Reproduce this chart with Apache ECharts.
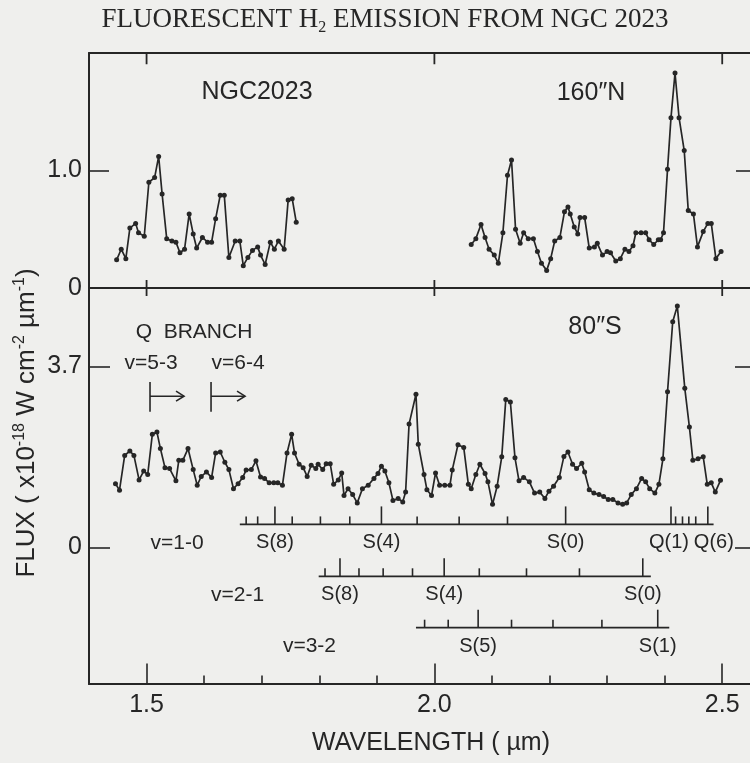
<!DOCTYPE html>
<html>
<head>
<meta charset="utf-8">
<title>Fluorescent H2 emission from NGC 2023</title>
<script src="https://cdn.jsdelivr.net/npm/echarts@6/dist/echarts.min.js"></script>
<style>
  html, body { margin: 0; padding: 0; background: #efefed; }
  #chart { width: 750px; height: 763px; }
</style>
</head>
<body>
<div id="chart"></div>
<script>
// 160"N position, two scanned pieces (wavelength in micron, flux in 1e-18 W cm-2 um-1)
const northWaveA = [1.448, 1.456, 1.464, 1.471, 1.481, 1.486, 1.496, 1.504, 1.514, 1.521, 1.527, 1.535, 1.544, 1.551,
  1.558, 1.566, 1.574, 1.581, 1.587, 1.597, 1.606, 1.613, 1.620, 1.628, 1.635, 1.643, 1.654, 1.662, 1.668, 1.676,
  1.684, 1.693, 1.698, 1.706, 1.715, 1.722, 1.729, 1.739, 1.746, 1.753, 1.760];
const northFluxA = [0.24, 0.33, 0.25, 0.51, 0.55, 0.47, 0.44, 0.90, 0.94, 1.12, 0.80, 0.42, 0.40, 0.39,
  0.30, 0.33, 0.63, 0.46, 0.34, 0.43, 0.39, 0.39, 0.59, 0.79, 0.79, 0.26, 0.40, 0.40, 0.19, 0.26,
  0.32, 0.35, 0.28, 0.20, 0.39, 0.33, 0.40, 0.33, 0.75, 0.76, 0.56];
const northWaveB = [2.064, 2.072, 2.081, 2.088, 2.095, 2.104, 2.111, 2.119, 2.127, 2.134, 2.141, 2.149, 2.155, 2.163,
  2.172, 2.179, 2.186, 2.195, 2.202, 2.209, 2.218, 2.226, 2.232, 2.236, 2.243, 2.249, 2.253, 2.261, 2.269, 2.278,
  2.283, 2.292, 2.300, 2.306, 2.315, 2.323, 2.331, 2.338, 2.345, 2.350, 2.359, 2.367, 2.373, 2.381, 2.389, 2.393,
  2.398, 2.405, 2.411, 2.418, 2.425, 2.434, 2.441, 2.450, 2.457, 2.467, 2.475, 2.481, 2.489, 2.498];
const northFluxB = [0.37, 0.42, 0.54, 0.43, 0.33, 0.28, 0.21, 0.47, 0.96, 1.09, 0.50, 0.38, 0.47, 0.42,
  0.42, 0.31, 0.21, 0.15, 0.25, 0.40, 0.43, 0.65, 0.69, 0.63, 0.52, 0.46, 0.60, 0.60, 0.34, 0.35,
  0.38, 0.28, 0.31, 0.30, 0.23, 0.25, 0.33, 0.31, 0.36, 0.47, 0.47, 0.47, 0.41, 0.37, 0.41, 0.41,
  0.47, 1.01, 1.45, 1.83, 1.45, 1.17, 0.66, 0.63, 0.35, 0.48, 0.55, 0.55, 0.25, 0.31];

// 80"S position
const southWave = [1.446, 1.453, 1.462, 1.471, 1.478, 1.487, 1.495, 1.502, 1.510, 1.518, 1.524, 1.532, 1.540, 1.551,
  1.556, 1.563, 1.572, 1.581, 1.588, 1.595, 1.604, 1.613, 1.620, 1.628, 1.636, 1.643, 1.651, 1.659, 1.667, 1.673,
  1.682, 1.690, 1.698, 1.705, 1.713, 1.721, 1.728, 1.736, 1.744, 1.752, 1.757, 1.765, 1.772, 1.779, 1.786, 1.794,
  1.798, 1.806, 1.812, 1.819, 1.825, 1.833, 1.839, 1.843, 1.850, 1.858, 1.866, 1.875, 1.885, 1.895, 1.902, 1.908,
  1.914, 1.921, 1.928, 1.937, 1.945, 1.950, 1.956, 1.968, 1.972, 1.982, 1.987, 1.995, 2.002, 2.009, 2.018, 2.027,
  2.031, 2.041, 2.051, 2.059, 2.064, 2.072, 2.079, 2.088, 2.093, 2.101, 2.109, 2.117, 2.124, 2.132, 2.140, 2.147,
  2.155, 2.165, 2.174, 2.183, 2.192, 2.199, 2.207, 2.217, 2.225, 2.232, 2.240, 2.247, 2.256, 2.261, 2.269, 2.277,
  2.286, 2.294, 2.302, 2.310, 2.319, 2.327, 2.334, 2.342, 2.351, 2.360, 2.367, 2.374, 2.383, 2.390, 2.397, 2.405,
  2.414, 2.422, 2.435, 2.443, 2.449, 2.458, 2.467, 2.474, 2.481, 2.488, 2.497];
const southFlux = [1.30, 1.17, 1.88, 1.97, 1.88, 1.38, 1.56, 1.49, 2.31, 2.36, 2.02, 1.63, 1.61, 1.36,
  1.78, 1.78, 2.02, 1.59, 1.27, 1.45, 1.54, 1.43, 1.93, 1.95, 1.74, 1.59, 1.20, 1.30, 1.43, 1.58,
  1.59, 1.77, 1.44, 1.41, 1.32, 1.32, 1.32, 1.27, 1.93, 2.31, 1.93, 1.70, 1.63, 1.45, 1.68, 1.61,
  1.70, 1.59, 1.71, 1.71, 1.29, 1.38, 1.52, 1.06, 1.20, 1.08, 0.91, 1.20, 1.27, 1.41, 1.51, 1.66,
  1.56, 1.32, 0.96, 1.00, 0.93, 1.13, 2.52, 3.13, 2.11, 1.49, 1.18, 1.06, 1.52, 1.27, 1.27, 1.27,
  1.58, 2.10, 2.04, 1.29, 1.20, 1.49, 1.70, 1.51, 1.34, 0.88, 1.25, 1.85, 3.02, 2.97, 1.83, 1.36,
  1.43, 1.34, 1.11, 1.13, 1.00, 1.15, 1.25, 1.43, 1.86, 1.95, 1.70, 1.61, 1.72, 1.54, 1.18, 1.11,
  1.08, 1.04, 0.98, 0.98, 0.91, 0.88, 0.91, 1.08, 1.20, 1.41, 1.34, 1.20, 1.11, 1.29, 1.81, 3.18,
  4.61, 4.93, 3.25, 2.46, 1.78, 1.81, 1.85, 1.29, 1.32, 1.13, 1.37];

// H2 line identifications (wavelength of each tick, name only on the long ones)
const v10Lines = [1.673, 1.693, 1.723, 1.753, 1.802, 1.853, 1.908, 1.970, 2.043, 2.127, 2.228,
  2.411, 2.419, 2.431, 2.442, 2.454, 2.475];
const v10Names = ['', '', 'S(8)', '', '', '', 'S(4)', '', '', '', 'S(0)', 'Q(1)', '', '', '', '', 'Q(6)'];
const v21Lines = [1.810, 1.836, 1.869, 1.911, 1.962, 2.017, 2.078, 2.160, 2.252, 2.362];
const v21Names = ['', 'S(8)', '', '', '', 'S(4)', '', '', '', 'S(0)'];
const v32Lines = [1.983, 2.024, 2.076, 2.134, 2.206, 2.291, 2.388];
const v32Names = ['', '', 'S(5)', '', '', '', 'S(1)'];
// Q branch onsets
const qBranchStart = [1.506, 1.612];

// axis ticks
const majorTicks = [1.5, 2.0, 2.5];
const minorTicks = [1.6, 1.7, 1.8, 1.9, 2.1, 2.2, 2.3, 2.4];

const ink = '#262626';
const sans = "'Liberation Sans', Arial, Helvetica, sans-serif";
const waveMin = 1.4, waveMax = 2.55;

function zip(w, f) {
  return w.map((x, i) => [x, f[i]]);
}

/*frame x axis*/
function xAxisDef(gridIndex, position, ticks, tickLen, labels) {
  return {
    type: 'value', gridIndex: gridIndex, position: position, min: waveMin, max: waveMax,
    axisLine: { show: true, onZero: false, lineStyle: { color: ink, width: 2 } },
    axisTick: ticks ? { show: true, inside: true, length: tickLen, customValues: ticks.slice(),
      lineStyle: { color: ink, width: 1.6 } } : { show: false },
    axisLabel: labels ? {
      show: true, customValues: ticks.slice(), margin: 9, color: ink, fontSize: 25, fontFamily: sans,
      formatter: v => v.toFixed(1)
    } : { show: false },
    splitLine: { show: false }
  };
}

/*frame y axis*/
function yAxisDef(gridIndex, position, min, max, ticks, tickLen, labels) {
  return {
    type: 'value', gridIndex: gridIndex, position: position, min: min, max: max,
    // the right frame edge is cut off in the scan
    axisLine: { show: position === 'left', onZero: false, lineStyle: { color: ink, width: 2 } },
    axisTick: { show: true, inside: true, length: tickLen, customValues: ticks.slice(),
      lineStyle: { color: ink, width: 1.6 } },
    axisLabel: labels ? {
      show: true, customValues: ticks.slice(), margin: 7, color: ink, fontSize: 25, fontFamily: sans,
      formatter: v => (v === 0 ? '0' : v.toFixed(1))
    } : { show: false },
    splitLine: { show: false }
  };
}

function spectrum(data, xi, yi) {
  return {
    type: 'line', xAxisIndex: xi, yAxisIndex: yi, data: data,
    symbol: 'circle', symbolSize: 5, showAllSymbol: true, animation: false, silent: true,
    lineStyle: { color: ink, width: 1.7 },
    itemStyle: { color: ink }
  };
}

/*major ticks hanging from the top edge and crossing the divider (drawn from the lower panel's scales)*/
const frameTicks = {
  type: 'custom', xAxisIndex: 2, yAxisIndex: 2, silent: true, animation: false, clip: false, z: 10,
  data: majorTicks.map(w => [w, 5.3]),
  renderItem(params, api) {
    const w = api.value(0);
    const lo = api.coord([w, 5.3]);
    // top edge of the upper panel, 235px above the divider
    const hi = [lo[0], lo[1] - api.size([0, 235 / 49])[1]];
    const st = { stroke: ink, lineWidth: 1.8 };
    return {
      type: 'group', children: [
        { type: 'line', shape: { x1: hi[0], y1: hi[1], x2: hi[0], y2: hi[1] + 11 }, style: st },
        { type: 'line', shape: { x1: lo[0], y1: lo[1] - 8, x2: lo[0], y2: lo[1] + 8 }, style: st }
      ]
    };
  }
};

/*one ladder of line positions under the 80"S spectrum*/
function ladder(lines, names, level, span, title, titleWave) {
  return {
    type: 'custom', xAxisIndex: 2, yAxisIndex: 2, silent: true, animation: false, z: 3,
    data: lines.map(w => [w, level]),
    renderItem(params, api) {
      const p = api.coord([api.value(0), api.value(1)]);
      const name = names[params.dataIndex];
      const len = name ? 18 : 8;
      const kids = [{
        type: 'line', shape: { x1: p[0], y1: p[1], x2: p[0], y2: p[1] - len },
        style: { stroke: ink, lineWidth: 1.6 }
      }];
      if (name) {
        // Q(6) sits right of its tick so it clears Q(1)
        const dx = name === 'Q(6)' ? 6 : (name === 'Q(1)' ? -2 : 0);
        kids.push({ type: 'text', x: p[0] + dx, y: p[1] + 18.5,
          style: { text: name, fill: ink, fontSize: 20, fontFamily: sans, align: 'center', verticalAlign: 'middle' } });
      }
      if (params.dataIndex === 0) {
        const a = api.coord([span[0], level]);
        const b = api.coord([span[1], level]);
        kids.push({ type: 'line', shape: { x1: a[0], y1: a[1], x2: b[0], y2: b[1] },
          style: { stroke: ink, lineWidth: 1.8 } });
        const t = api.coord([titleWave, level]);
        kids.push({ type: 'text', x: t[0], y: t[1] + 18.5,
          style: { text: title, fill: ink, fontSize: 21, fontFamily: sans, align: 'center', verticalAlign: 'middle' } });
      }
      return { type: 'group', children: kids };
    }
  };
}

const qBranch = {
  type: 'custom', xAxisIndex: 2, yAxisIndex: 2, silent: true, animation: false, z: 3,
  data: qBranchStart.map(w => [w]),
  renderItem(params, api) {
    const w = api.value(0);
    const hi = api.coord([w, 3.38]);
    const lo = api.coord([w, 2.77]);
    const mid = api.coord([w, 3.09]);
    const end = mid[0] + 34;
    const st = { stroke: ink, lineWidth: 1.6, fill: null };
    return {
      type: 'group', children: [
        { type: 'line', shape: { x1: hi[0], y1: hi[1], x2: lo[0], y2: lo[1] }, style: st },
        { type: 'line', shape: { x1: mid[0], y1: mid[1], x2: end, y2: mid[1] }, style: st },
        { type: 'polyline', shape: { points: [[end - 8, mid[1] - 5], [end, mid[1]], [end - 8, mid[1] + 5]] }, style: st }
      ]
    };
  }
};

function label(text, x, y, size) {
  return { type: 'text', x: x, y: y, z: 10, silent: true,
    style: { text: text, fill: ink, fontSize: size, fontFamily: sans, align: 'center', verticalAlign: 'middle' } };
}

const chart = echarts.init(document.getElementById('chart'));
chart.setOption({
  backgroundColor: '#efefed',
  animation: false,
  grid: [
    { left: 89, top: 53, width: 662, height: 235, outerBoundsMode: 'none' },
    { left: 89, top: 288, width: 662, height: 395.5, outerBoundsMode: 'none' }
  ],
  xAxis: [
    xAxisDef(0, 'bottom', null, 0, false),
    xAxisDef(0, 'top', null, 0, false),
    xAxisDef(1, 'bottom', majorTicks, 20, true),
    xAxisDef(1, 'bottom', minorTicks, 8, false),
    xAxisDef(1, 'top', null, 0, false)
  ],
  yAxis: [
    yAxisDef(0, 'left', 0, 2.0, [0, 1.0], 20, true),
    yAxisDef(0, 'right', 0, 2.0, [1.0], 15, false),
    yAxisDef(1, 'left', -2.78, 5.3, [0, 3.7], 21, true),
    yAxisDef(1, 'right', -2.78, 5.3, [0, 3.7], 16, false)
  ],
  series: [
    spectrum(zip(northWaveA, northFluxA), 0, 0),
    spectrum(zip(northWaveB, northFluxB), 0, 0),
    spectrum(zip(southWave, southFlux), 2, 2),
    frameTicks,
    ladder(v10Lines, v10Names, 0.47, [1.662, 2.485], 'v=1-0', 1.553),
    ladder(v21Lines, v21Names, -0.59, [1.799, 2.376], 'v=2-1', 1.658),
    ladder(v32Lines, v32Names, -1.64, [1.968, 2.408], 'v=3-2', 1.783),
    qBranch
  ],
  graphic: [
    {
      type: 'text', x: 385, y: 20, silent: true,
      style: {
        text: 'FLUORESCENT H{sub|2} EMISSION FROM NGC 2023',
        fill: ink, fontSize: 27, fontFamily: "'Liberation Serif', 'Times New Roman', serif",
        align: 'center', verticalAlign: 'middle',
        rich: { sub: { fontSize: 16, fontFamily: "'Liberation Serif', serif", fill: ink, verticalAlign: 'bottom', padding: [16, 0, 0, 0] } }
      }
    },
    {
      type: 'text', x: 27, y: 423, rotation: Math.PI / 2, silent: true,
      style: {
        text: 'FLUX ( x10{sup|-18} W cm{sup|-2} µm{sup|-1})',
        fill: ink, fontSize: 26, fontFamily: sans, align: 'center', verticalAlign: 'middle',
        rich: { sup: { fontSize: 16, fontFamily: sans, fill: ink, verticalAlign: 'top', padding: [0, 0, 14, 0] } }
      }
    },
    label('WAVELENGTH ( µm)', 431, 743, 25),
    label('NGC2023', 257, 92, 25),
    label('160\u2033N', 591, 93, 25),
    label('80\u2033S', 595, 327, 25),
    label('Q  BRANCH', 194, 332, 21),
    label('v=5-3', 151, 363, 21),
    label('v=6-4', 238, 363, 21)
  ]
});
</script>
</body>
</html>
